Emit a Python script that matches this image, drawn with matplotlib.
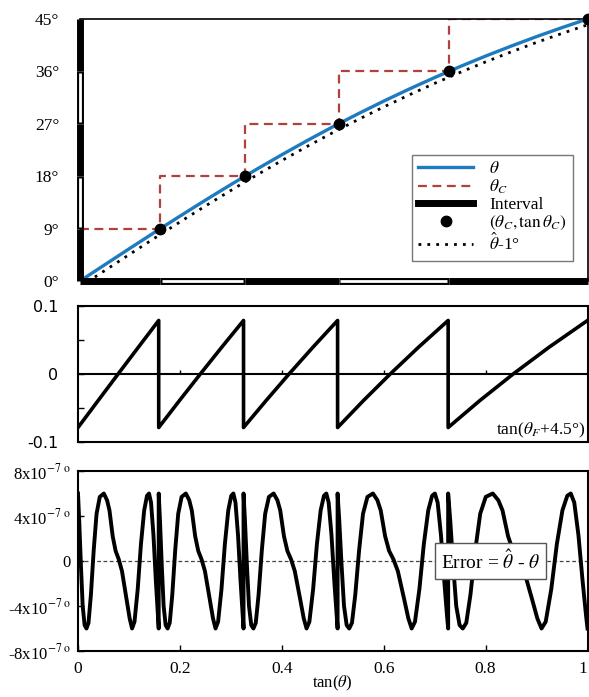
import matplotlib.pyplot as plt
import numpy as np
from matplotlib.lines import Line2D

plt.rcParams['font.family'] = ['Liberation Serif', 'DejaVu Serif']
plt.rcParams['mathtext.fontset'] = 'stix'

# interval edges: tan of 0, 9, 18, 27, 36, 45 degrees
tan_edges = [0.0, 0.1584, 0.3249, 0.5095, 0.7265, 1.0]
deg_edges = [0, 9, 18, 27, 36, 45]

# theta (deg) vs tan(theta)
x_theta = [0.0, 0.05, 0.10, 0.15, 0.20, 0.25, 0.30, 0.35, 0.40, 0.45, 0.50,
           0.55, 0.60, 0.65, 0.70, 0.75, 0.80, 0.85, 0.90, 0.95, 1.0]
theta = [0.0, 2.86, 5.71, 8.53, 11.31, 14.04, 16.70, 19.29, 21.80, 24.23, 26.57,
         28.81, 30.96, 33.02, 34.99, 36.87, 38.66, 40.36, 41.99, 43.53, 45.0]
theta_hat_minus1 = [t - 1.0 for t in theta]

# staircase theta_C
x_step = [0.0, 0.1584, 0.3249, 0.5095, 0.7265, 1.0]
theta_c = [9, 18, 27, 36, 45, 45]

# dots (tan theta_C, theta_C)
dot_x = [0.1584, 0.3249, 0.5095, 0.7265, 1.0]
dot_y = [9, 18, 27, 36, 45]

# middle panel: sawtooth tan(theta - theta_F - 4.5deg)
saw_x = [0.0, 0.0393, 0.0787, 0.1184, 0.1584,
         0.1584, 0.1989, 0.2401, 0.2820, 0.3249,
         0.3249, 0.3689, 0.4142, 0.4610, 0.5095,
         0.5095, 0.5600, 0.6128, 0.6682, 0.7265,
         0.7265, 0.7883, 0.8541, 0.9244, 1.0]
saw_y = [-0.0787, -0.0393, 0.0, 0.0393, 0.0787] * 5

# bottom panel: error shape within one interval (u = relative position, v in 1e-7 deg)
err_u = [0.000, 0.015, 0.035, 0.058, 0.082, 0.105, 0.130, 0.160, 0.195, 0.230,
         0.270, 0.320, 0.360, 0.390, 0.430, 0.466, 0.505, 0.545, 0.600, 0.640,
         0.670, 0.700, 0.740, 0.780, 0.820, 0.855, 0.880, 0.905, 0.935, 0.965,
         0.990, 1.000]
err_v = [6.0, 3.6, -0.2, -4.0, -5.7, -6.0, -5.5, -3.0, 1.0, 4.2,
         5.7, 6.0, 5.4, 4.5, 2.2, 0.9, 0.15, -0.9, -3.3, -5.1,
         -6.0, -5.4, -2.5, 1.5, 4.5, 5.8, 6.0, 5.2, 2.3, -1.8,
         -4.9, -6.0]

W, H = 589, 697
fig = plt.figure(figsize=(W / 100, H / 100), dpi=100)


def px_axes(x0, y0, x1, y1):
    return fig.add_axes([x0 / W, 1 - y1 / H, (x1 - x0) / W, (y1 - y0) / H])


# ---------------- top panel ----------------
ax1 = px_axes(80, 19, 587.5, 281)
ax1.set_xlim(0, 1)
ax1.set_ylim(0, 45)
ax1.plot(x_theta, theta, color='#1f7bc0', lw=2.4, zorder=3)
ax1.step(x_step, theta_c, where='post', color='#b0413e', lw=1.6, ls=(0, (4, 2.5)), zorder=2)
ax1.plot(x_theta, theta_hat_minus1, color='black', lw=2.0, ls=(0, (1, 2.2)), zorder=3)
ax1.plot(dot_x, dot_y, 'o', color='black', ms=7.5, zorder=4, clip_on=False)

# interval bars along both axes
for i in range(5):
    ax1.plot([tan_edges[i], tan_edges[i + 1]], [0, 0], color='black', lw=5,
             solid_capstyle='butt', clip_on=False, zorder=5)
    ax1.plot([0, 0], [deg_edges[i], deg_edges[i + 1]], color='black', lw=5,
             solid_capstyle='butt', clip_on=False, zorder=5)
    if i % 2 == 1:
        ax1.plot([tan_edges[i] + 0.003, tan_edges[i + 1] - 0.003], [0, 0], color='white',
                 lw=2.0, solid_capstyle='butt', clip_on=False, zorder=6)
        ax1.plot([0, 0], [deg_edges[i] + 0.3, deg_edges[i + 1] - 0.3], color='white',
                 lw=2.0, solid_capstyle='butt', clip_on=False, zorder=6)

ax1.spines['left'].set_visible(False)
ax1.spines['bottom'].set_visible(False)
for s in ['top', 'right']:
    ax1.spines[s].set_linewidth(1.2)
ax1.set_xticks([])
ax1.set_yticks(deg_edges)
ax1.set_yticklabels([f'{d}°' for d in deg_edges], fontsize=12.5)
ax1.tick_params(axis='y', length=0, pad=15)

handles = [
    Line2D([], [], color='#1f7bc0', lw=2.4),
    Line2D([], [], color='#b0413e', lw=1.6, ls=(0, (4, 2.5))),
    Line2D([], [], color='black', lw=5),
    Line2D([], [], color='black', marker='o', ms=7.5, ls='none'),
    Line2D([], [], color='black', lw=2.0, ls=(0, (1, 2.2))),
]
labels = [r'$\theta$', r'$\theta_C$', 'Interval', r'$(\theta_C, \tan\theta_C)$',
          r'$\hat{\theta}$-1°']
leg = ax1.legend(handles, labels, loc='lower right', bbox_to_anchor=(0.988, 0.045),
                 fontsize=12.5, frameon=True, fancybox=False, edgecolor='#555555',
                 handlelength=3.2, labelspacing=0.05, borderpad=0.35, handletextpad=0.9)
leg.get_frame().set_linewidth(1.0)
leg.set_zorder(10)

# ---------------- middle panel ----------------
ax2 = px_axes(78, 306, 587.5, 442)
ax2.set_xlim(0, 1)
ax2.set_ylim(-0.1, 0.1)
ax2.plot(saw_x, saw_y, color='black', lw=2.6, zorder=3)
ax2.spines['bottom'].set_position(('data', 0))
ax2.axhline(-0.1, color='black', lw=1.5, clip_on=False)
for s in ['top', 'right', 'left', 'bottom']:
    ax2.spines[s].set_linewidth(1.5)
ax2.set_xticks([0.2, 0.4, 0.6, 0.8])
ax2.set_xticklabels([])
ax2.tick_params(axis='x', direction='in', length=3, width=1)
ax2.set_yticks([-0.1, -0.05, 0, 0.05, 0.1])
ax2.set_yticklabels(['-0.1', '', '0', '', '0.1'], family='DejaVu Sans', fontsize=11.5)
ax2.tick_params(axis='y', direction='in', length=4, width=1, pad=14)
ax2.text(0.995, -0.083, r'tan($\theta_F$+4.5°)', ha='right', va='center', fontsize=12.5)

# ---------------- bottom panel ----------------
ax3 = px_axes(78, 471, 587.5, 651)
ax3.set_xlim(0, 1)
ax3.set_ylim(-8, 8)
err_x, err_y = [], []
for i in range(5):
    a, b = tan_edges[i], tan_edges[i + 1]
    err_x += [a + u * (b - a) for u in err_u]
    err_y += err_v
ax3.plot(err_x, err_y, color='black', lw=2.8, zorder=3)
ax3.axhline(0, color='#444444', lw=0.9, ls=(0, (3, 2)), zorder=2)
for s in ['top', 'right', 'left', 'bottom']:
    ax3.spines[s].set_linewidth(1.5)
ax3.set_xticks([0, 0.2, 0.4, 0.6, 0.8, 1.0])
ax3.set_xticklabels(['0', '0.2', '0.4', '0.6', '0.8', '1'], fontsize=12.5)
ax3.get_xticklabels()[-1].set_horizontalalignment('right')
ax3.tick_params(axis='x', direction='in', length=4, width=1, pad=7)
ax3.set_yticks([-8, -4, 0, 4, 8])
ax3.set_yticklabels([r'-8x10$^{-7\ \mathrm{o}}$', r'-4x10$^{-7\ \mathrm{o}}$', '0',
                     r'4x10$^{-7\ \mathrm{o}}$', r'8x10$^{-7\ \mathrm{o}}$'], fontsize=12)
ax3.tick_params(axis='y', direction='in', length=4, width=1, pad=5)
ax3.set_xlabel(r'tan($\theta$)', fontsize=12, labelpad=-2)
ax3.text(0.81, 0, r'Error = $\hat{\theta}$ - $\theta$', ha='center', va='center',
         fontsize=14, zorder=10,
         bbox=dict(boxstyle='square,pad=0.3', facecolor='white', edgecolor='#555555', lw=1.0))

fig.savefig('out.png', dpi=100)
